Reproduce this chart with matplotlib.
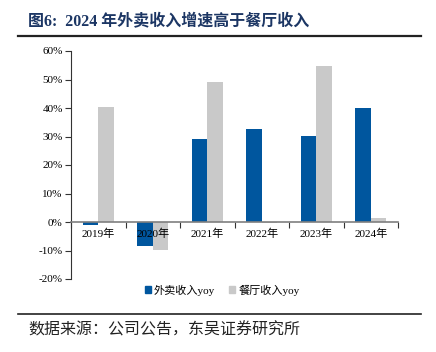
import matplotlib.pyplot as plt
import numpy as np
from matplotlib.patches import Patch
from matplotlib.lines import Line2D

# --- data ---
years = ['2019年', '2020年', '2021年', '2022年', '2023年', '2024年']
delivery_yoy = [-1.0, -8.3, 29.0, 32.8, 30.3, 39.9]
restaurant_yoy = [40.3, -9.7, 49.1, -0.5, 54.9, 1.3]

blue = '#00569e'
gray = '#c9c9c9'
serif_cjk = ['Liberation Serif', 'Noto Sans CJK SC']

fig = plt.figure(figsize=(4.36, 3.52), dpi=100)
ax = fig.add_axes([71 / 436, 1 - 279 / 352, 327 / 436, 228 / 352])

x = np.arange(len(years))
w = 0.28
ax.bar(x - w / 2, delivery_yoy, width=w, color=blue, zorder=2)
ax.bar(x + w / 2, restaurant_yoy, width=w, color=gray, zorder=2)
ax.set_axisbelow(False)  # year labels sit on top of the 2020 bars

ax.set_xlim(-0.5, len(years) - 0.5)
ax.set_ylim(-20, 60)
ax.set_yticks(np.arange(-20, 61, 10))
ax.set_yticklabels([f'{v}%' for v in range(-20, 61, 10)], family=serif_cjk, fontsize=8)

# x axis drawn on the zero line, ticks at group boundaries
ax.spines['top'].set_visible(False)
ax.spines['right'].set_visible(False)
ax.spines['bottom'].set_position(('data', 0))
ax.spines['bottom'].set_color('#7f7f7f')
ax.spines['bottom'].set_linewidth(1.2)
ax.spines['bottom'].set_zorder(3)
ax.spines['left'].set_color('#333333')
ax.spines['left'].set_linewidth(0.8)
ax.set_xticks(np.arange(-0.5, len(years), 1.0))
ax.set_xticklabels([])
ax.set_xticks(x, minor=True)
ax.set_xticklabels(years, minor=True, family=serif_cjk, fontsize=8)
ax.tick_params(axis='x', which='major', direction='out', length=4, color='#333333', width=0.8)
ax.tick_params(axis='x', which='minor', length=0, pad=5)
ax.tick_params(axis='y', direction='out', length=4, color='#333333', width=0.8, pad=2)

handles = [Patch(color=blue, label='外卖收入yoy'), Patch(color=gray, label='餐厅收入yoy')]
fig.legend(handles=handles, loc='center', bbox_to_anchor=(222 / 436, 1 - 290 / 352),
           ncol=2, frameon=False, handlelength=0.55, handleheight=0.55, handletextpad=0.3,
           columnspacing=1.2, prop={'family': serif_cjk, 'size': 8})

# title, rules and source
fig.text(28 / 436, 1 - 22 / 352, '图6:  2024 年外卖收入增速高于餐厅收入', family=serif_cjk,
         fontsize=11.5, fontweight='bold', color='#1c3664', va='center', ha='left')
fig.add_artist(Line2D([18 / 436, 421 / 436], [1 - 36 / 352] * 2, color='#222222', lw=1.6))
fig.add_artist(Line2D([18 / 436, 421 / 436], [1 - 314 / 352] * 2, color='#222222', lw=1.2))
fig.text(28 / 436, 1 - 330 / 352, '数据来源：公司公告，东吴证券研究所', family=serif_cjk,
         fontsize=11.5, color='#222222', va='center', ha='left')

fig.savefig('out.png', dpi=100)
